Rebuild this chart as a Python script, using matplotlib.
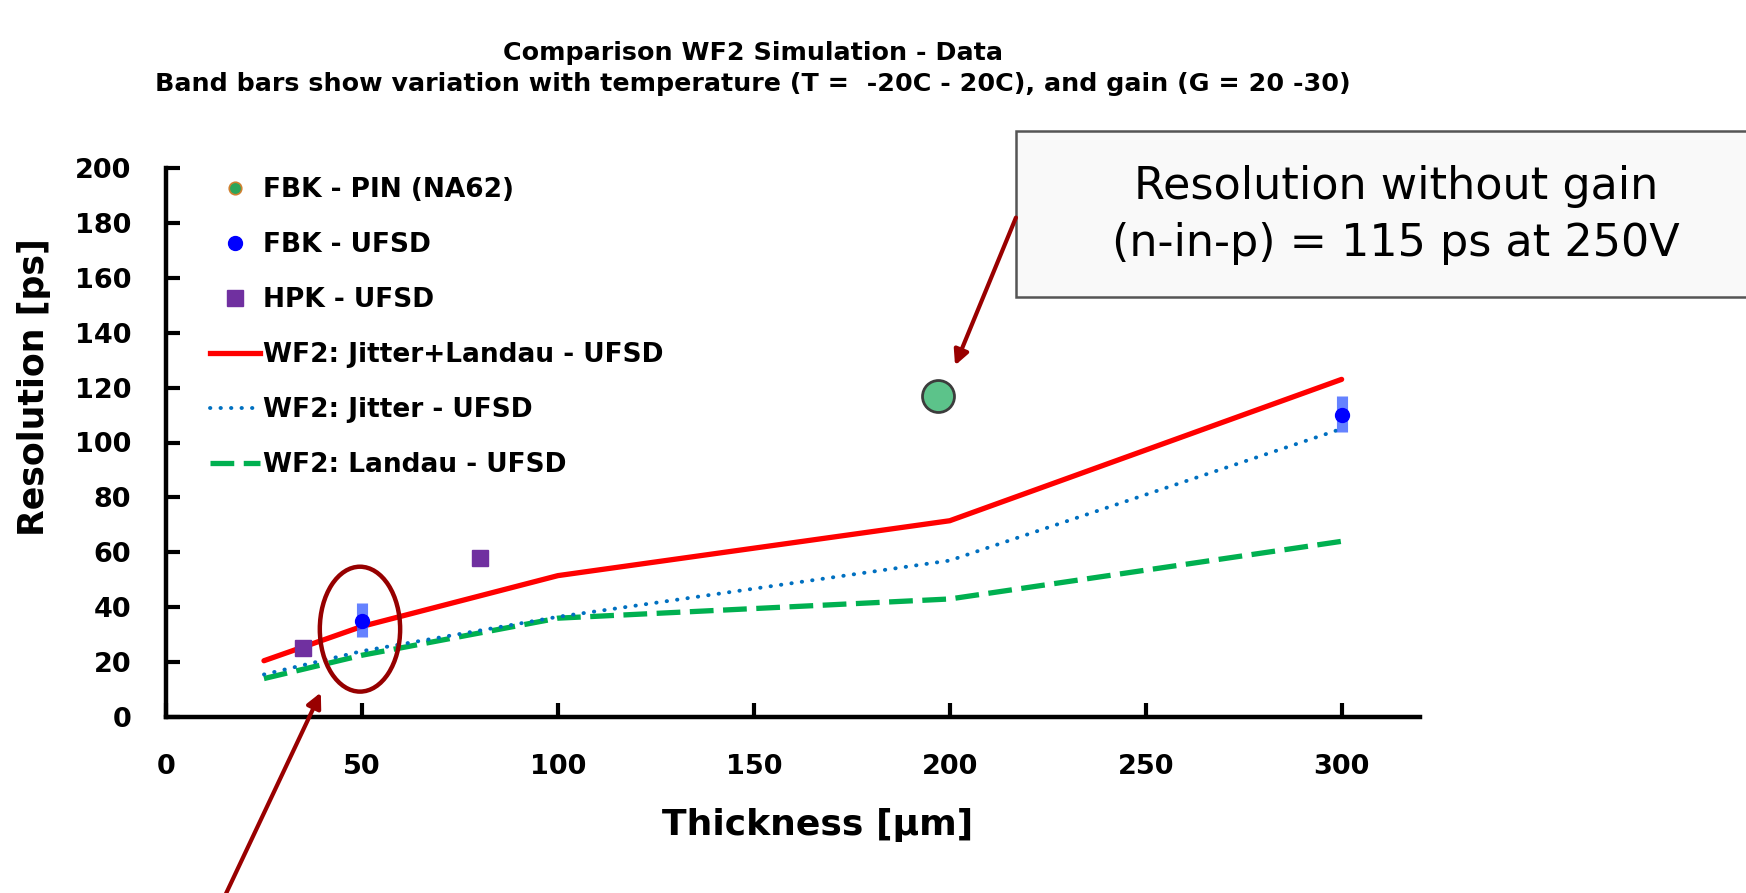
import matplotlib
matplotlib.use("Agg")
import matplotlib.pyplot as plt
from matplotlib.lines import Line2D
from matplotlib.patches import Ellipse, Rectangle, FancyArrowPatch

# ---------------- data ----------------
thickness_sim = [25, 50, 100, 200, 300]
jitter_landau = [20.5, 33, 51.5, 71.5, 123]
jitter_only = [15.5, 24, 36.5, 57, 105]
landau_only = [14, 22.5, 36, 43, 64]

fbk_ufsd_x = [50, 300]
fbk_ufsd_y = [35, 110]
fbk_band_low = [29, 104]
fbk_band_high = [41.5, 117]

hpk_x = [35, 80]
hpk_y = [25, 58]

pin_x = [197]
pin_y = [117]

x_ticks = [0, 50, 100, 150, 200, 250, 300]
y_ticks = [0, 20, 40, 60, 80, 100, 120, 140, 160, 180, 200]

legend_labels = ["FBK - PIN (NA62)", "FBK - UFSD", "HPK - UFSD",
                 "WF2: Jitter+Landau - UFSD", "WF2: Jitter - UFSD",
                 "WF2: Landau - UFSD"]

title_1 = "Comparison WF2 Simulation - Data"
title_2 = "Band bars show variation with temperature (T =  -20C - 20C), and gain (G = 20 -30)"
box_text = "Resolution without gain\n(n-in-p) = 115 ps at 250V"

plt.rcParams['font.family'] = ['DejaVu Sans']

W, H = 1746, 893
fig = plt.figure(figsize=(W / 100, H / 100), dpi=100)


def fx(px):
    return px / W


def fy(py):
    return 1 - py / H


ax = fig.add_axes([fx(166), fy(717), fx(1420) - fx(166), fy(168) - fy(717)])
ax.set_xlim(0, 320)
ax.set_ylim(0, 200)

red = "#ff0000"
blue_dot = "#0070c0"
green = "#00b050"

ax.plot(thickness_sim, jitter_landau, color=red, lw=3.8, solid_capstyle="round", zorder=3)
ax.plot(thickness_sim, jitter_only, color=blue_dot, lw=2.8, linestyle=(0, (0.1, 2.6)),
        dash_capstyle="round", zorder=3)
ax.plot(thickness_sim, landau_only, color=green, lw=3.8, linestyle=(0, (4.5, 1.8)), zorder=2)

# band bars
ax.vlines(fbk_ufsd_x, fbk_band_low, fbk_band_high, color="#4a6cff", lw=8, alpha=0.85, zorder=4)
ax.plot(fbk_ufsd_x, fbk_ufsd_y, "o", color="#0000ff", ms=10, zorder=5)
ax.plot(hpk_x, hpk_y, "s", color="#7030a0", ms=12, zorder=5)
ax.plot(pin_x, pin_y, "o", markerfacecolor="#5cc38a", markeredgecolor="#3c3c3c",
        markeredgewidth=2, ms=23, zorder=5)

# ellipse highlight
ax.add_patch(Ellipse((49.5, 32), 20.5, 45.5, fill=False, edgecolor="#960000", lw=3.2, zorder=6))

# axes styling
for s in ["top", "right"]:
    ax.spines[s].set_visible(False)
for s in ["left", "bottom"]:
    ax.spines[s].set_linewidth(3.2)
ax.set_xticks(x_ticks)
ax.set_yticks(y_ticks)
ax.tick_params(axis="x", direction="in", length=10, width=3, pad=27, labelsize=19.5)
ax.tick_params(axis="y", direction="in", length=10, width=3, pad=25, labelsize=19.5)
for lab in ax.get_xticklabels() + ax.get_yticklabels():
    lab.set_fontweight("bold")

fig.text(fx(818), fy(825), "Thickness [μm]", ha="center", va="center",
         fontsize=26, fontweight="bold")
fig.text(fx(34), fy(387), "Resolution [ps]", ha="center", va="center",
         rotation=90, fontsize=25, fontweight="bold")

# legend
handles = [
    Line2D([], [], ls="none", marker="o", ms=9, markerfacecolor="#2ca55a",
           markeredgecolor="#d08030", markeredgewidth=1.2),
    Line2D([], [], ls="none", marker="o", ms=10, color="#0000ff"),
    Line2D([], [], ls="none", marker="s", ms=11, color="#7030a0"),
    Line2D([], [], color=red, lw=3.8),
    Line2D([], [], color=blue_dot, lw=2.8, linestyle=(0, (0.1, 2.6)), dash_capstyle="round"),
    Line2D([], [], color=green, lw=3.8, linestyle=(0, (4.5, 1.8))),
]
leg = ax.legend(handles, legend_labels, loc="upper left",
                bbox_to_anchor=(fx(210), fy(177)), bbox_transform=fig.transFigure,
                frameon=False, fontsize=19, labelspacing=1.1, handlelength=1.9,
                handletextpad=0.12, borderpad=0, borderaxespad=0)
for t in leg.get_texts():
    t.set_fontweight("bold")

# title
fig.text(fx(753), fy(53), title_1, ha="center", va="center", fontsize=18.3, fontweight="bold")
fig.text(fx(753), fy(84), title_2, ha="center", va="center", fontsize=18.3, fontweight="bold")

# annotation box
fig.patches.append(Rectangle((fx(1016), fy(297)), fx(760), fy(131) - fy(297),
                             transform=fig.transFigure, facecolor="#f9f9f9",
                             edgecolor="#555555", lw=1.8, zorder=1))
fig.text(fx(1396), fy(215), box_text, ha="center", va="center", fontsize=32,
         color="black", linespacing=1.39, zorder=2)

# arrows
for (x0, y0), (x1, y1) in [((1017, 215), (954, 368)), ((223, 900), (322, 690))]:
    fig.patches.append(FancyArrowPatch((fx(x0), fy(y0)), (fx(x1), fy(y1)),
                                       transform=fig.transFigure, arrowstyle="-|>",
                                       mutation_scale=22, color="#990000", lw=3, zorder=7))

fig.savefig("out.png", dpi=100)
